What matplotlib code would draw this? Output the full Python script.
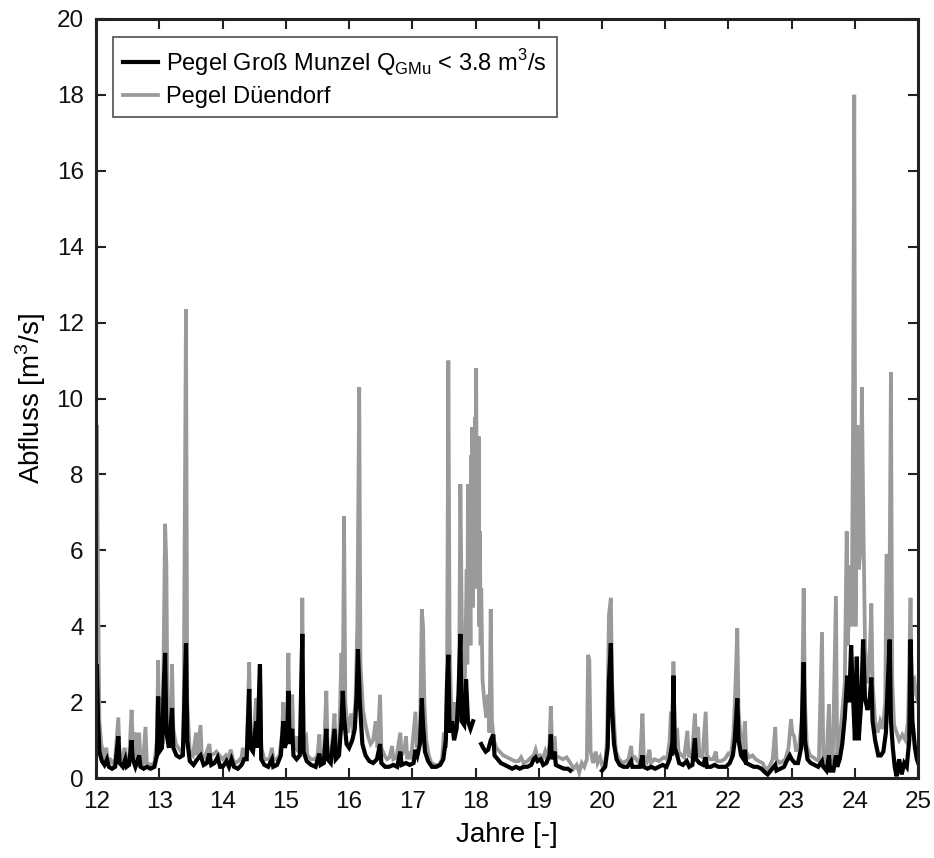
import numpy as np
import matplotlib
matplotlib.use("Agg")
import matplotlib.pyplot as plt
from matplotlib.lines import Line2D

plt.rcParams["font.family"] = ["Liberation Sans", "DejaVu Sans"]
plt.rcParams["mathtext.fontset"] = "custom"
plt.rcParams["mathtext.rm"] = "Liberation Sans"

# ---------------- data (year, discharge m3/s) ----------------
# Pegel Dueendorf (grey)
duendorf_pts = [
    (12.00, 2.2), (12.01, 9.3), (12.03, 5.0), (12.05, 1.5), (12.08, 0.9), (12.12, 0.6),
    (12.16, 0.8), (12.18, 0.5), (12.22, 0.5), (12.26, 0.4), (12.30, 0.5), (12.35, 1.6),
    (12.37, 0.6), (12.41, 0.5), (12.45, 0.8), (12.47, 0.4), (12.52, 0.5), (12.56, 1.8),
    (12.58, 0.9), (12.62, 1.2), (12.64, 0.5), (12.68, 1.2), (12.70, 0.5), (12.74, 0.4),
    (12.78, 1.35), (12.80, 0.4), (12.86, 0.35), (12.92, 0.4), (12.96, 1.0), (12.98, 3.1),
    (13.00, 1.0), (13.03, 1.7), (13.05, 0.9), (13.09, 6.7), (13.11, 5.6), (13.13, 1.2),
    (13.17, 0.9), (13.20, 3.0), (13.22, 1.3), (13.26, 0.9), (13.30, 0.8), (13.34, 0.7),
    (13.38, 0.8), (13.42, 12.35), (13.44, 2.0), (13.48, 0.7), (13.53, 0.6), (13.58, 1.2),
    (13.60, 0.6), (13.65, 1.4), (13.67, 0.6), (13.72, 0.55), (13.79, 0.9), (13.81, 0.6),
    (13.87, 0.65), (13.90, 0.7), (13.95, 0.6), (14.00, 0.5), (14.05, 0.6), (14.08, 0.5),
    (14.13, 0.75), (14.16, 0.5), (14.20, 0.4), (14.25, 0.45), (14.30, 0.55), (14.32, 0.8),
    (14.34, 0.6), (14.38, 0.7), (14.42, 3.05), (14.44, 1.0), (14.48, 0.9), (14.53, 2.1),
    (14.55, 1.2), (14.59, 3.0), (14.61, 0.8), (14.66, 0.5), (14.70, 0.5), (14.74, 0.5),
    (14.78, 0.8), (14.80, 0.5), (14.85, 0.5), (14.90, 0.6), (14.94, 1.2), (14.96, 2.0),
    (14.98, 1.0), (15.02, 1.5), (15.04, 3.3), (15.06, 1.2), (15.10, 2.2), (15.12, 0.9),
    (15.16, 0.8), (15.18, 1.1), (15.20, 0.7), (15.24, 1.0), (15.26, 4.75), (15.28, 1.0),
    (15.32, 1.1), (15.34, 0.6), (15.40, 0.5), (15.46, 0.5), (15.50, 0.6), (15.53, 1.15),
    (15.55, 0.5), (15.60, 0.6), (15.64, 2.3), (15.66, 0.8), (15.70, 0.6), (15.73, 0.9),
    (15.77, 1.7), (15.79, 0.7), (15.84, 0.9), (15.88, 3.3), (15.90, 2.0), (15.92, 6.9),
    (15.94, 2.0), (15.98, 1.2), (16.00, 1.5), (16.04, 1.7), (16.06, 1.2), (16.10, 2.0),
    (16.13, 4.0), (16.16, 10.3), (16.18, 3.0), (16.22, 1.8), (16.26, 1.4), (16.30, 1.1),
    (16.34, 0.9), (16.38, 1.0), (16.42, 1.5), (16.45, 0.8), (16.49, 2.2), (16.51, 0.8),
    (16.56, 0.6), (16.60, 0.5), (16.64, 0.55), (16.68, 0.85), (16.70, 0.5), (16.75, 0.55),
    (16.81, 1.2), (16.83, 0.6), (16.87, 0.7), (16.90, 1.1), (16.92, 0.5), (16.95, 0.7),
    (16.98, 0.5), (17.05, 1.75), (17.07, 0.8), (17.10, 1.1), (17.12, 0.9), (17.15, 4.45),
    (17.17, 4.0), (17.19, 2.0), (17.22, 1.0), (17.26, 0.6), (17.30, 0.4), (17.36, 0.35),
    (17.42, 0.35), (17.47, 0.5), (17.50, 1.2), (17.53, 0.8), (17.55, 3.0), (17.57, 11.0),
    (17.59, 3.5), (17.62, 1.5), (17.66, 2.0), (17.68, 1.2), (17.72, 1.5), (17.74, 2.5),
    (17.76, 7.75), (17.78, 4.5), (17.80, 2.0), (17.83, 2.5), (17.86, 5.5), (17.87, 3.0),
    (17.88, 7.75), (17.89, 4.0), (17.91, 6.0), (17.92, 3.5), (17.93, 8.5), (17.94, 5.0),
    (17.95, 9.25), (17.96, 4.5), (17.97, 7.0), (17.98, 5.0), (17.99, 9.5), (18.00, 6.0),
    (18.01, 10.8), (18.02, 5.5), (18.03, 8.0), (18.04, 5.0), (18.05, 9.0), (18.06, 4.0),
    (18.07, 6.5), (18.08, 3.5), (18.09, 5.0), (18.11, 2.6), (18.14, 2.0),
    (18.17, 1.6), (18.20, 2.2), (18.22, 1.2), (18.24, 4.45), (18.26, 1.5), (18.29, 1.0),
    (18.33, 0.8), (18.38, 0.7), (18.44, 0.6), (18.50, 0.55), (18.56, 0.5), (18.62, 0.45),
    (18.68, 0.45), (18.72, 0.55), (18.76, 0.4), (18.82, 0.45), (18.88, 0.55), (18.92, 0.6),
    (18.95, 0.75), (18.98, 0.55), (19.02, 0.6), (19.06, 0.5), (19.10, 0.7), (19.13, 0.5),
    (19.17, 0.9), (19.19, 1.9), (19.21, 0.9), (19.25, 1.1), (19.27, 0.6), (19.32, 0.55),
    (19.38, 0.5), (19.44, 0.55), (19.50, 0.4), (19.55, 0.25), (19.60, 0.35), (19.64, 0.15),
    (19.68, 0.4), (19.72, 0.3), (19.76, 0.5), (19.78, 3.25), (19.80, 3.1), (19.82, 0.7),
    (19.86, 0.4), (19.90, 0.7), (19.93, 0.4), (19.97, 0.55), (20.01, 0.3), (20.05, 0.4),
    (20.08, 1.0), (20.11, 4.3), (20.14, 4.75), (20.16, 2.5), (20.19, 1.5), (20.22, 0.7),
    (20.27, 0.5), (20.33, 0.4), (20.38, 0.45), (20.42, 0.5), (20.46, 0.85), (20.48, 0.5),
    (20.52, 0.55), (20.56, 0.45), (20.60, 0.4), (20.64, 1.7), (20.66, 0.6), (20.71, 0.45),
    (20.75, 0.75), (20.77, 0.4), (20.83, 0.5), (20.90, 0.45), (20.98, 0.55), (21.03, 0.5),
    (21.07, 1.0), (21.09, 1.75), (21.11, 1.0), (21.13, 3.07), (21.15, 1.2), (21.19, 1.25),
    (21.21, 0.7), (21.26, 0.6), (21.30, 0.55), (21.35, 1.25), (21.37, 0.6), (21.42, 0.55),
    (21.47, 1.7), (21.49, 0.9), (21.52, 1.35), (21.54, 0.6), (21.59, 0.55), (21.64, 1.75),
    (21.66, 0.6), (21.71, 0.5), (21.76, 0.5), (21.80, 0.7), (21.82, 0.45), (21.88, 0.45),
    (21.94, 0.5), (22.00, 0.65), (22.04, 0.6), (22.08, 1.2), (22.11, 2.4), (22.14, 3.95),
    (22.16, 1.8), (22.20, 0.9), (22.23, 0.7), (22.26, 1.5), (22.28, 0.7), (22.33, 0.55),
    (22.38, 0.6), (22.43, 0.5), (22.48, 0.45), (22.54, 0.4), (22.60, 0.2), (22.66, 0.35),
    (22.70, 0.5), (22.74, 1.35), (22.76, 0.5), (22.81, 0.4), (22.86, 0.45), (22.90, 0.5),
    (22.95, 0.8), (22.99, 1.55), (23.01, 1.2), (23.04, 1.1), (23.07, 0.7), (23.12, 0.9),
    (23.16, 1.5), (23.19, 5.0), (23.21, 2.0), (23.24, 0.85), (23.29, 0.6), (23.34, 0.55),
    (23.38, 0.5), (23.43, 0.45), (23.48, 3.85), (23.50, 0.5), (23.55, 0.45), (23.59, 1.95),
    (23.61, 0.5), (23.65, 0.45), (23.70, 4.8), (23.72, 0.6), (23.76, 1.0), (23.80, 1.75),
    (23.84, 2.5), (23.87, 6.5), (23.89, 3.5), (23.92, 5.6), (23.95, 4.0), (23.97, 9.3),
    (23.99, 18.0), (24.01, 4.0), (24.04, 9.3), (24.06, 5.5), (24.09, 6.0), (24.11, 10.3),
    (24.13, 7.3), (24.16, 3.5), (24.20, 2.5), (24.23, 3.0), (24.26, 4.6), (24.28, 2.5),
    (24.32, 1.5), (24.36, 1.2), (24.40, 1.5), (24.44, 1.3), (24.48, 2.0), (24.50, 5.9),
    (24.52, 5.8), (24.54, 3.0), (24.57, 10.7), (24.59, 2.6), (24.62, 1.4), (24.66, 1.2),
    (24.70, 1.0), (24.75, 1.15), (24.80, 1.0), (24.84, 1.5), (24.88, 4.75), (24.90, 2.5),
    (24.94, 2.6), (24.97, 2.2), (25.00, 2.0),
]

# Pegel Gross Munzel (black), three pieces with data gaps in between
munzel_a = [
    (12.00, 2.2), (12.01, 3.0), (12.03, 1.5), (12.05, 0.7), (12.09, 0.45), (12.13, 0.35),
    (12.17, 0.5), (12.20, 0.3), (12.25, 0.25), (12.30, 0.3), (12.35, 1.1), (12.37, 0.4),
    (12.42, 0.3), (12.46, 0.5), (12.48, 0.3), (12.52, 0.35), (12.56, 1.0), (12.58, 0.5),
    (12.62, 0.3), (12.68, 0.6), (12.70, 0.3), (12.75, 0.25), (12.80, 0.3), (12.86, 0.25),
    (12.92, 0.3), (12.96, 0.6), (12.98, 2.15), (13.00, 0.7), (13.04, 0.8), (13.07, 2.5),
    (13.09, 3.3), (13.11, 1.2), (13.15, 0.8), (13.20, 1.85), (13.22, 0.8), (13.27, 0.6),
    (13.32, 0.55), (13.37, 0.6), (13.42, 3.55), (13.44, 1.0), (13.48, 0.45), (13.54, 0.35),
    (13.60, 0.5), (13.65, 0.6), (13.70, 0.35), (13.75, 0.4), (13.79, 0.65), (13.82, 0.35),
    (13.87, 0.4), (13.92, 0.55), (13.96, 0.3), (14.00, 0.3), (14.06, 0.45), (14.10, 0.3),
    (14.14, 0.5), (14.18, 0.3), (14.24, 0.25), (14.30, 0.35), (14.34, 0.5), (14.38, 0.5),
    (14.42, 2.35), (14.44, 0.8), (14.48, 0.7), (14.53, 1.5), (14.55, 0.8), (14.59, 3.0),
    (14.61, 0.5), (14.66, 0.35), (14.72, 0.3), (14.78, 0.5), (14.80, 0.3), (14.86, 0.35),
    (14.92, 0.6), (14.96, 1.5), (14.98, 0.8), (15.02, 1.0), (15.04, 2.3), (15.06, 0.9),
    (15.10, 1.3), (15.12, 0.6), (15.17, 0.5), (15.22, 0.6), (15.26, 3.8), (15.28, 0.7),
    (15.33, 0.45), (15.40, 0.35), (15.47, 0.3), (15.53, 0.65), (15.55, 0.35), (15.60, 0.4),
    (15.64, 1.3), (15.66, 0.5), (15.71, 0.4), (15.77, 1.3), (15.79, 0.5), (15.84, 0.6),
    (15.88, 1.5), (15.90, 2.3), (15.92, 1.6), (15.96, 0.9), (16.00, 0.8), (16.05, 1.0),
    (16.09, 1.3), (16.12, 2.2), (16.14, 3.4), (16.17, 2.0), (16.21, 0.9), (16.26, 0.6),
    (16.32, 0.45), (16.38, 0.4), (16.44, 0.5), (16.49, 0.9), (16.51, 0.4), (16.57, 0.3),
    (16.63, 0.3), (16.70, 0.35), (16.76, 0.3), (16.81, 0.7), (16.83, 0.35), (16.90, 0.4),
    (16.96, 0.35), (17.02, 0.4), (17.05, 0.75), (17.08, 0.6), (17.12, 0.9), (17.15, 2.1),
    (17.17, 1.4), (17.20, 0.7), (17.25, 0.45), (17.31, 0.3), (17.38, 0.3), (17.44, 0.35),
    (17.49, 0.5), (17.53, 1.0), (17.55, 2.5), (17.57, 3.25), (17.59, 1.2), (17.63, 1.5),
    (17.66, 1.0), (17.70, 1.3), (17.73, 2.2), (17.76, 3.8), (17.78, 1.5), (17.82, 1.4),
    (17.85, 2.6), (17.88, 1.5), (17.92, 1.3), (17.96, 1.5),
]
munzel_b = [
    (18.09, 0.9), (18.12, 0.8), (18.16, 0.7), (18.20, 0.75), (18.24, 1.0), (18.28, 1.15),
    (18.30, 0.6), (18.35, 0.5), (18.40, 0.4), (18.46, 0.35), (18.52, 0.3), (18.58, 0.25),
    (18.64, 0.3), (18.70, 0.25), (18.76, 0.3), (18.82, 0.3), (18.88, 0.35), (18.92, 0.5),
    (18.95, 0.55), (18.98, 0.45), (19.03, 0.5), (19.07, 0.35), (19.12, 0.4), (19.17, 0.6),
    (19.19, 1.15), (19.21, 0.5), (19.25, 0.7), (19.27, 0.35), (19.33, 0.3), (19.40, 0.25),
    (19.46, 0.25), (19.50, 0.2),
]
munzel_c = [
    (20.00, 0.2), (20.05, 0.3), (20.09, 0.8), (20.11, 2.55), (20.14, 3.55), (20.16, 1.8),
    (20.19, 0.9), (20.23, 0.5), (20.28, 0.35), (20.34, 0.3), (20.40, 0.3), (20.46, 0.45),
    (20.48, 0.3), (20.54, 0.3), (20.60, 0.3), (20.64, 0.6), (20.66, 0.3), (20.72, 0.25),
    (20.78, 0.3), (20.84, 0.25), (20.90, 0.3), (20.96, 0.35), (21.02, 0.3), (21.07, 0.5),
    (21.09, 0.7), (21.11, 0.6), (21.13, 2.7), (21.15, 0.8), (21.19, 0.6), (21.22, 0.4),
    (21.28, 0.35), (21.34, 0.45), (21.38, 0.3), (21.43, 0.35), (21.47, 1.05), (21.49, 0.5),
    (21.54, 0.4), (21.60, 0.35), (21.64, 0.55), (21.66, 0.3), (21.72, 0.3), (21.78, 0.35),
    (21.84, 0.3), (21.90, 0.3), (21.96, 0.3), (22.02, 0.4), (22.07, 0.6), (22.10, 1.0),
    (22.14, 2.1), (22.16, 1.0), (22.20, 0.6), (22.24, 0.5), (22.26, 0.75), (22.28, 0.4),
    (22.34, 0.35), (22.40, 0.3), (22.46, 0.3), (22.52, 0.25), (22.58, 0.15), (22.62, 0.1),
    (22.67, 0.2), (22.74, 0.35), (22.76, 0.2), (22.82, 0.25), (22.88, 0.3), (22.92, 0.45),
    (22.97, 0.6), (23.00, 0.5), (23.05, 0.4), (23.10, 0.4), (23.15, 0.8), (23.19, 3.05),
    (23.21, 1.0), (23.25, 0.5), (23.30, 0.4), (23.36, 0.35), (23.42, 0.3), (23.48, 0.45),
    (23.50, 0.3), (23.55, 0.2), (23.59, 0.6), (23.61, 0.2), (23.66, 0.2), (23.70, 0.6),
    (23.72, 0.3), (23.76, 0.5), (23.80, 0.9), (23.84, 1.6), (23.88, 2.7), (23.91, 2.0),
    (23.94, 3.5), (23.97, 2.2), (24.00, 1.0), (24.03, 3.2), (24.06, 1.0), (24.10, 2.0),
    (24.13, 3.65), (24.16, 2.1), (24.20, 1.8), (24.23, 2.0), (24.26, 2.65), (24.28, 1.5),
    (24.32, 1.0), (24.37, 0.6), (24.41, 0.6), (24.45, 0.7), (24.49, 1.2), (24.52, 2.5),
    (24.55, 3.65), (24.57, 1.5), (24.60, 0.8), (24.63, 0.3), (24.66, 0.05), (24.70, 0.5),
    (24.74, 0.1), (24.78, 0.4), (24.82, 0.3), (24.86, 1.0), (24.88, 3.65), (24.91, 1.5),
    (24.95, 0.8), (24.98, 0.5), (25.00, 0.4),
]

x_ticks = list(range(12, 26))
y_ticks = list(range(0, 21, 2))

label_munzel = r"Pegel Groß Munzel Q$_{\mathregular{GMu}}$ < 3.8 m$^{\mathregular{3}}$/s"
label_duendorf = "Pegel Düendorf"

GREY = "#9a9a9a"
BLACK = "#000000"

# ---------------- plot ----------------
fig = plt.figure(figsize=(9.34, 8.58), dpi=100)
ax = fig.add_axes([0.103, 0.093, 0.880, 0.885])

d = np.array(duendorf_pts)
ax.plot(d[:, 0], d[:, 1], color=GREY, lw=2.7, solid_joinstyle="miter")
for seg in (munzel_a, munzel_b, munzel_c):
    s = np.array(seg)
    ax.plot(s[:, 0], s[:, 1], color=BLACK, lw=3.0, solid_joinstyle="miter")

ax.set_xlim(12, 25)
ax.set_ylim(0, 20)
ax.set_xticks(x_ticks)
ax.set_yticks(y_ticks)
ax.tick_params(direction="in", top=True, right=True, length=7, width=1.5,
               labelsize=17.5, pad=9, colors="#222222", labelcolor="#111111")
for sp in ax.spines.values():
    sp.set_linewidth(2.2)
    sp.set_color("#222222")

ax.set_xlabel("Jahre [-]", fontsize=20, labelpad=7)
ax.set_ylabel(r"Abfluss [m$^{\mathregular{3}}$/s]", fontsize=20, labelpad=6)

handles = [Line2D([], [], color=BLACK, lw=3.0), Line2D([], [], color=GREY, lw=2.7)]
leg = ax.legend(handles, [label_munzel, label_duendorf], loc="upper left",
                bbox_to_anchor=(0.012, 0.985), fontsize=17, frameon=True, fancybox=False,
                borderpad=0.4, handlelength=1.5, handletextpad=0.35, labelspacing=0.35,
                borderaxespad=0.3)
leg.get_frame().set_edgecolor("#222222")
leg.get_frame().set_linewidth(1.2)

fig.savefig("out.png", dpi=100)
